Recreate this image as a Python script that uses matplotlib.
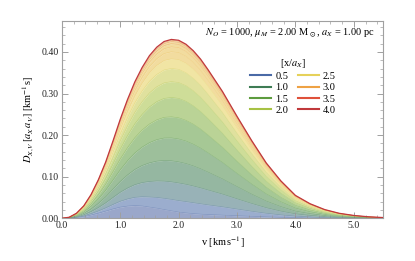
import matplotlib
matplotlib.use("Agg")
import matplotlib.pyplot as plt
from matplotlib.lines import Line2D
from matplotlib.colors import LinearSegmentedColormap
from matplotlib.ticker import MultipleLocator, FormatStrFormatter

# ---- data ----
v = [0.0, 0.125, 0.25, 0.375, 0.5, 0.625, 0.75, 0.875, 1.0, 1.125, 1.25, 1.375,
     1.5, 1.625, 1.75, 1.875, 2.0, 2.125, 2.25, 2.375, 2.5,
     2.75, 3.0, 3.25, 3.5, 3.75, 4.0, 4.25, 4.5, 4.75, 5.0, 5.25, 5.5]

x_levels = [0.25, 0.5, 0.75, 1.0, 1.25, 1.5, 1.75, 2.0,
            2.25, 2.5, 2.75, 3.0, 3.25, 3.5, 3.75, 4.0]

D_x025 = [0, 0.0004, 0.0017, 0.0042, 0.0078, 0.0122, 0.0172, 0.0224, 0.0268, 0.0294, 0.0306, 0.0296, 0.0269, 0.0243, 0.0210, 0.0179, 0.0149, 0.0129, 0.0112, 0.0100, 0.0090,
          0.0076, 0.0061, 0.0047, 0.0033, 0.0023, 0.0014, 0.0009, 0.0005, 0.0003, 0.0002, 0.0001, 0.0]
D_x050 = [0, 0.0005, 0.0024, 0.0059, 0.0111, 0.0176, 0.0250, 0.0332, 0.0409, 0.0465, 0.0504, 0.0518, 0.0512, 0.0501, 0.0479, 0.0454, 0.0424, 0.0400, 0.0374, 0.0348, 0.0322,
          0.0275, 0.0221, 0.0168, 0.0120, 0.0081, 0.0050, 0.0032, 0.0019, 0.0011, 0.0006, 0.0003, 0.0002]
D_x075 = [0, 0.0007, 0.0034, 0.0085, 0.0161, 0.0258, 0.0371, 0.0500, 0.0626, 0.0728, 0.0809, 0.0859, 0.0885, 0.0898, 0.0893, 0.0876, 0.0848, 0.0816, 0.0775, 0.0730, 0.0680,
          0.0580, 0.0466, 0.0355, 0.0253, 0.0171, 0.0105, 0.0067, 0.0040, 0.0023, 0.0013, 0.0007, 0.0003]
D_x100 = [0, 0.0010, 0.0047, 0.0117, 0.0222, 0.0357, 0.0516, 0.0700, 0.0886, 0.1043, 0.1175, 0.1269, 0.1333, 0.1374, 0.1391, 0.1383, 0.1356, 0.1315, 0.1258, 0.1189, 0.1110,
          0.0946, 0.0760, 0.0580, 0.0412, 0.0279, 0.0171, 0.0109, 0.0065, 0.0037, 0.0021, 0.0011, 0.0006]
D_x125 = [0, 0.0013, 0.0061, 0.0151, 0.0288, 0.0464, 0.0673, 0.0918, 0.1167, 0.1385, 0.1572, 0.1713, 0.1819, 0.1891, 0.1930, 0.1933, 0.1907, 0.1856, 0.1780, 0.1687, 0.1575,
          0.1342, 0.1078, 0.0823, 0.0585, 0.0396, 0.0242, 0.0154, 0.0092, 0.0053, 0.0030, 0.0016, 0.0008]
D_x150 = [0, 0.0015, 0.0074, 0.0182, 0.0348, 0.0563, 0.0818, 0.1119, 0.1427, 0.1700, 0.1938, 0.2123, 0.2267, 0.2367, 0.2427, 0.2440, 0.2416, 0.2354, 0.2262, 0.2145, 0.2005,
          0.1708, 0.1372, 0.1047, 0.0745, 0.0504, 0.0308, 0.0196, 0.0118, 0.0067, 0.0038, 0.0020, 0.0010]
D_x175 = [0, 0.0018, 0.0085, 0.0211, 0.0404, 0.0653, 0.0951, 0.1303, 0.1665, 0.1990, 0.2273, 0.2499, 0.2678, 0.2804, 0.2882, 0.2905, 0.2882, 0.2812, 0.2704, 0.2566, 0.2399,
          0.2044, 0.1642, 0.1253, 0.0891, 0.0603, 0.0369, 0.0235, 0.0141, 0.0080, 0.0046, 0.0024, 0.0012]
D_x200 = [0, 0.0020, 0.0095, 0.0235, 0.0449, 0.0727, 0.1060, 0.1453, 0.1860, 0.2226, 0.2548, 0.2806, 0.3014, 0.3161, 0.3256, 0.3286, 0.3263, 0.3187, 0.3066, 0.2910, 0.2721,
          0.2318, 0.1862, 0.1421, 0.1011, 0.0684, 0.0418, 0.0266, 0.0160, 0.0091, 0.0052, 0.0027, 0.0014]
D_x225 = [0, 0.0021, 0.0103, 0.0255, 0.0487, 0.0789, 0.1151, 0.1579, 0.2023, 0.2423, 0.2777, 0.3063, 0.3294, 0.3459, 0.3566, 0.3603, 0.3581, 0.3499, 0.3367, 0.3197, 0.2989,
          0.2547, 0.2046, 0.1561, 0.1111, 0.0752, 0.0459, 0.0292, 0.0175, 0.0100, 0.0057, 0.0030, 0.0015]
D_x250 = [0, 0.0023, 0.0108, 0.0269, 0.0514, 0.0834, 0.1217, 0.1671, 0.2142, 0.2568, 0.2944, 0.3250, 0.3499, 0.3677, 0.3794, 0.3835, 0.3814, 0.3728, 0.3588, 0.3407, 0.3186,
          0.2715, 0.2181, 0.1664, 0.1184, 0.0801, 0.0490, 0.0312, 0.0187, 0.0107, 0.0061, 0.0032, 0.0016]
D_x275 = [0, 0.0023, 0.0113, 0.0280, 0.0535, 0.0867, 0.1265, 0.1738, 0.2228, 0.2673, 0.3066, 0.3387, 0.3648, 0.3836, 0.3960, 0.4004, 0.3983, 0.3894, 0.3749, 0.3560, 0.3329,
          0.2837, 0.2279, 0.1739, 0.1237, 0.0837, 0.0512, 0.0326, 0.0195, 0.0112, 0.0063, 0.0033, 0.0017]
D_x300 = [0, 0.0024, 0.0116, 0.0287, 0.0549, 0.0890, 0.1299, 0.1785, 0.2289, 0.2747, 0.3152, 0.3482, 0.3753, 0.3947, 0.4076, 0.4122, 0.4102, 0.4011, 0.3861, 0.3667, 0.3430,
          0.2922, 0.2347, 0.1791, 0.1274, 0.0862, 0.0527, 0.0335, 0.0201, 0.0115, 0.0065, 0.0034, 0.0017]
D_x325 = [0, 0.0024, 0.0117, 0.0292, 0.0558, 0.0905, 0.1321, 0.1815, 0.2328, 0.2794, 0.3207, 0.3544, 0.3820, 0.4019, 0.4151, 0.4199, 0.4178, 0.4085, 0.3934, 0.3736, 0.3494,
          0.2977, 0.2391, 0.1825, 0.1298, 0.0878, 0.0537, 0.0342, 0.0205, 0.0117, 0.0066, 0.0035, 0.0018]
D_x350 = [0, 0.0025, 0.0119, 0.0295, 0.0564, 0.0915, 0.1336, 0.1835, 0.2354, 0.2826, 0.3243, 0.3585, 0.3865, 0.4066, 0.4200, 0.4249, 0.4229, 0.4135, 0.3982, 0.3782, 0.3537,
          0.3013, 0.2421, 0.1848, 0.1314, 0.0889, 0.0543, 0.0346, 0.0207, 0.0119, 0.0067, 0.0036, 0.0018]
D_x375 = [0, 0.0025, 0.0119, 0.0297, 0.0567, 0.0921, 0.1344, 0.1847, 0.2369, 0.2844, 0.3265, 0.3609, 0.3891, 0.4094, 0.4229, 0.4279, 0.4259, 0.4164, 0.4010, 0.3809, 0.3562,
          0.3035, 0.2438, 0.1861, 0.1323, 0.0896, 0.0547, 0.0348, 0.0209, 0.0119, 0.0068, 0.0036, 0.0018]
D_x400 = [0, 0.0025, 0.012, 0.0298, 0.057, 0.0925, 0.135, 0.1855, 0.238, 0.2857, 0.328, 0.3626, 0.391, 0.4114, 0.425, 0.430, 0.428, 0.4185, 0.403, 0.3828, 0.358,
          0.305, 0.245, 0.187, 0.133, 0.090, 0.055, 0.035, 0.021, 0.012, 0.0068, 0.0036, 0.0018]

curves = [D_x025, D_x050, D_x075, D_x100, D_x125, D_x150, D_x175, D_x200,
          D_x225, D_x250, D_x275, D_x300, D_x325, D_x350, D_x375, D_x400]

legend_labels = ["0.5", "1.0", "1.5", "2.0", "2.5", "3.0", "3.5", "4.0"]
legend_x = [0.5, 1.0, 1.5, 2.0, 2.5, 3.0, 3.5, 4.0]

# colour gradient (DarkRainbow-like)
cstops = [(0.0, "#46559a"), (0.5 / 4, "#4a6aa6"), (1.0 / 4, "#3e7c54"),
          (1.5 / 4, "#5c9c3e"), (2.0 / 4, "#a6c244"), (2.5 / 4, "#e6d25a"),
          (3.0 / 4, "#eea444"), (3.5 / 4, "#e0523a"), (1.0, "#c0393b")]
cmap = LinearSegmentedColormap.from_list("darkrainbow", cstops)

plt.rcParams["font.family"] = "serif"
plt.rcParams["font.serif"] = ["Liberation Serif", "DejaVu Serif"]
plt.rcParams["mathtext.fontset"] = "stix"

fig = plt.figure(figsize=(4.15, 2.61), dpi=100)
ax = fig.add_axes([0.149, 0.1636, 0.774, 0.757])

prev = [0.0] * len(v)
for xl, cur in zip(x_levels, curves):
    fcol = cmap(min(xl, 2.7) / 4.0)
    ax.fill_between(v, prev, cur, color=fcol, alpha=0.55, lw=0, zorder=1)
    prev = cur
for xl, cur in zip(x_levels, curves):
    col = cmap(xl / 4.0)
    top = xl == 4.0
    ax.plot(v, cur, color=col, lw=0.9 if top else 0.4,
            alpha=1.0 if top else 0.35, zorder=3 if top else 2)

ax.set_xlim(0, 5.5)
ax.set_ylim(0, 0.475)
ax.xaxis.set_major_locator(MultipleLocator(1.0))
ax.xaxis.set_minor_locator(MultipleLocator(0.2))
ax.yaxis.set_major_locator(MultipleLocator(0.1))
ax.yaxis.set_minor_locator(MultipleLocator(0.02))
ax.xaxis.set_major_formatter(FormatStrFormatter("%.1f"))
ax.yaxis.set_major_formatter(FormatStrFormatter("%.2f"))

gray = "#a0a0a0"
for s in ax.spines.values():
    s.set_color(gray)
    s.set_linewidth(0.8)
ax.tick_params(which="both", direction="in", top=True, right=True,
               color=gray, labelsize=7, labelcolor="#222222", pad=2)
ax.tick_params(which="major", length=4, width=0.7)
ax.tick_params(which="minor", length=2, width=0.5)

ax.set_xlabel(r"v [km$\,$s$^{-1}$]", fontsize=7.5, labelpad=3)
ax.set_ylabel(r"$D_{X,V}\,[a_X\,a_V]$ [km$^{-1}$s]", fontsize=7.5, labelpad=4)

ax.text(0.975, 0.938,
        r"$N_O$ = 1000, $\mu_M$ = 2.00 M$_\odot$, $a_X$ = 1.00 pc",
        transform=ax.transAxes, ha="right", va="center", fontsize=7.5)

handles = [Line2D([0], [0], color=cmap(xl / 4.0), lw=1.5) for xl in legend_x]
leg = ax.legend(handles, legend_labels, ncol=2, title=r"[x/$a_X$]",
                loc="upper center", bbox_to_anchor=(0.72, 0.845),
                frameon=False, fontsize=7.5, title_fontsize=7.5,
                handlelength=2.0, handletextpad=0.4, columnspacing=0.9,
                labelspacing=0.2, borderpad=0.0)

fig.savefig("out.png", dpi=100)
